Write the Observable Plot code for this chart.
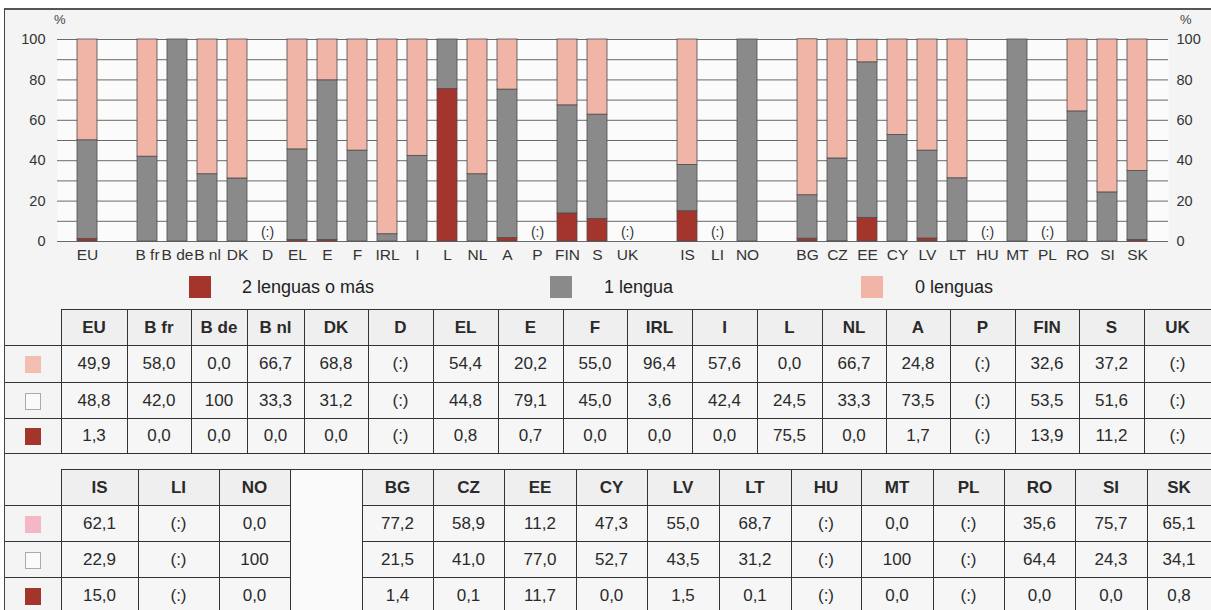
<!DOCTYPE html>
<html>
<head>
<meta charset="utf-8">
<script src="https://cdn.jsdelivr.net/npm/d3@7"></script>
<script src="https://cdn.jsdelivr.net/npm/@observablehq/plot@0.6"></script>
<style>
  html, body { margin: 0; padding: 0; }
  body { width: 1211px; height: 610px; overflow: hidden; background: #ffffff; font-family: "Liberation Sans", Arial, sans-serif; color: #333; position: relative; }
  #frame { position: absolute; left: 4px; top: 8px; width: 1210px; height: 610px; border-left: 1px solid #444; border-top: 2px solid #555; background: #f4f4f4; }
  #chart { position: absolute; left: 0; top: 10px; }
  .pct { position: absolute; font-size: 13px; color: #444; }
  .leg { position: absolute; top: 276px; height: 22px; }
  .leg .sw { position: absolute; left: 0; top: 0; width: 22px; height: 22px; }
  .leg .lab { position: absolute; top: 0; font-size: 18px; line-height: 22px; white-space: nowrap; color: #222; }
  table { position: absolute; left: 5px; border-collapse: collapse; table-layout: fixed; font-family: "Liberation Sans", Arial, sans-serif; }
  td, th { border: 1px solid #333; text-align: center; padding: 0; font-size: 17px; color: #2a2a2a; overflow: hidden; white-space: nowrap; }
  th { font-weight: bold; background: #efefef; }
  td { background: #f6f6f6; }
  td.swc, th.swc { background: #f4f4f4; border-left: none; }
  th.swc { border-top: none; }
  td.blank { background: #fafafa; }
  .sq { display: inline-block; width: 16px; height: 17px; vertical-align: middle; box-sizing: border-box; margin-left: 0px; }
</style>
</head>
<body>
<div id="frame"></div>
<div id="chart"></div>
<div class="pct" style="left:54px; top:12px;">%</div>
<div class="pct" style="left:1180px; top:12px;">%</div>
<div id="legend"></div>
<div id="tables"></div>
<script>
// ---- data ----
const countries = ["EU","B fr","B de","B nl","DK","D","EL","E","F","IRL","I","L","NL","A","P","FIN","S","UK",
                   "IS","LI","NO",
                   "BG","CZ","EE","CY","LV","LT","HU","MT","PL","RO","SI","SK"];
const zeroLang = [49.9,58.0,0.0,66.7,68.8,null,54.4,20.2,55.0,96.4,57.6,0.0,66.7,24.8,null,32.6,37.2,null,
                  62.1,null,0.0,
                  77.2,58.9,11.2,47.3,55.0,68.7,null,0.0,null,35.6,75.7,65.1];
const oneLang  = [48.8,42.0,100,33.3,31.2,null,44.8,79.1,45.0,3.6,42.4,24.5,33.3,73.5,null,53.5,51.6,null,
                  22.9,null,100,
                  21.5,41.0,77.0,52.7,43.5,31.2,null,100,null,64.4,24.3,34.1];
const twoLang  = [1.3,0.0,0.0,0.0,0.0,null,0.8,0.7,0.0,0.0,0.0,75.5,0.0,1.7,null,13.9,11.2,null,
                  15.0,null,0.0,
                  1.4,0.1,11.7,0.0,1.5,0.1,null,0.0,null,0.0,0.0,0.8];
const seriesNames = ["2 lenguas o más","1 lengua","0 lenguas"];
const seriesColors = ["#a3352d","#8a8a8a","#f1b5a7"];
// chart slot order (gaps between groups)
const chartSlots = ["EU","_g1","B fr","B de","B nl","DK","D","EL","E","F","IRL","I","L","NL","A","P","FIN","S","UK",
                    "_g2","IS","LI","NO","_g3","BG","CZ","EE","CY","LV","LT","HU","MT","PL","RO","SI","SK"];
const yTicks = [0,20,40,60,80,100];
const gridTicks = [0,10,20,30,40,50,60,70,80,90,100];
const table1Cols = ["EU","B fr","B de","B nl","DK","D","EL","E","F","IRL","I","L","NL","A","P","FIN","S","UK"];
const table2Cols = ["IS","LI","NO",null,"BG","CZ","EE","CY","LV","LT","HU","MT","PL","RO","SI","SK"];

// ---- chart ----
const long = [];
countries.forEach((c, i) => {
  if (twoLang[i] == null) return;
  long.push({country: c, group: seriesNames[0], value: twoLang[i]});
  long.push({country: c, group: seriesNames[1], value: oneLang[i]});
  long.push({country: c, group: seriesNames[2], value: zeroLang[i]});
});
const missing = countries.filter((c, i) => zeroLang[i] == null);

const chart = Plot.plot({
  width: 1211, height: 252,
  marginLeft: 57, marginRight: 43, marginTop: 29, marginBottom: 21,
  style: {fontFamily: "'Liberation Sans', Arial, sans-serif", color: "#333", background: "transparent", overflow: "visible"},
  x: {domain: chartSlots, padding: 0.32, axis: null},
  y: {domain: [0, 100], axis: null},
  color: {domain: seriesNames, range: seriesColors},
  marks: [
    Plot.frame({fill: "#fbfbfb", stroke: null}),
    Plot.ruleY(gridTicks, {stroke: "#6a6a6a", strokeWidth: 1}),
    Plot.barY(long, {x: "country", y: "value", fill: "group", stroke: "#4d4d4d", strokeWidth: 0.8}),
    Plot.text(missing, {x: d => d, y: 0, text: () => "(:)", dy: -9, fontSize: 14, fill: "#333"}),
    Plot.axisX({label: null, tickSize: 0, tickPadding: 7, fontSize: 15.5, tickFormat: d => d.startsWith("_") ? "" : d}),
    Plot.axisY({label: null, anchor: "left", ticks: yTicks, tickSize: 0, tickPadding: 12, fontSize: 14.5}),
    Plot.axisY({label: null, anchor: "right", ticks: yTicks, tickSize: 0, tickPadding: 8, fontSize: 14.5})
  ]
});
document.getElementById("chart").appendChild(chart);

// ---- legend ----
const legPos = [{sx: 189, tx: 242}, {sx: 550, tx: 604}, {sx: 861, tx: 915}];
const legend = document.getElementById("legend");
seriesNames.forEach((name, i) => {
  const d = document.createElement("div");
  d.className = "leg";
  d.style.left = legPos[i].sx + "px";
  d.innerHTML = `<div class="sw" style="background:${seriesColors[i]}"></div><div class="lab" style="left:${legPos[i].tx - legPos[i].sx}px">${name}</div>`;
  legend.appendChild(d);
});

// ---- tables ----
const fmt = v => v == null ? "(:)" : (v === 100 ? "100" : v.toFixed(1).replace(".", ","));
const valueOf = (c, arr) => arr[countries.indexOf(c)];
const rowArrays = [zeroLang, oneLang, twoLang];
const swatch1 = [`background:#f3bdb0`, `background:#fafafa;border:1px solid #aaa`, `background:#a3352d`];
const swatch2 = [`background:#f5b7c6`, `background:#fafafa;border:1px solid #aaa`, `background:#a3352d`];

function buildTable(cols, widths, top, swatches, rowH) {
  const t = document.createElement("table");
  t.style.top = top + "px";
  const total = 56 + widths.reduce((a, b) => a + b, 0);
  t.style.width = total + "px";
  let html = `<colgroup><col style="width:56px">` + widths.map(w => `<col style="width:${w}px">`).join("") + `</colgroup>`;
  html += `<tr style="height:${rowH[0]}px"><th class="swc"></th>` +
    cols.map(c => c == null ? `<td class="blank" rowspan="4"></td>` : `<th>${c}</th>`).join("") + `</tr>`;
  rowArrays.forEach((arr, r) => {
    html += `<tr style="height:${rowH[r + 1]}px"><td class="swc"><span class="sq" style="${swatches[r]}"></span></td>` +
      cols.filter(c => c != null).map(c => `<td>${fmt(valueOf(c, arr))}</td>`).join("") + `</tr>`;
  });
  t.innerHTML = html;
  document.getElementById("tables").appendChild(t);
}
buildTable(table1Cols, [66,64,56,57,64,65,65,65,64,65,65,65,64,64,65,64,65,67], 309, swatch1, [36,37,36,35]);
buildTable(table2Cols, [77,81,71,72,71,71,72,71,72,72,70,72,71,71,72,64], 469, swatch2, [36,36,36,36]);
</script>
</body>
</html>
